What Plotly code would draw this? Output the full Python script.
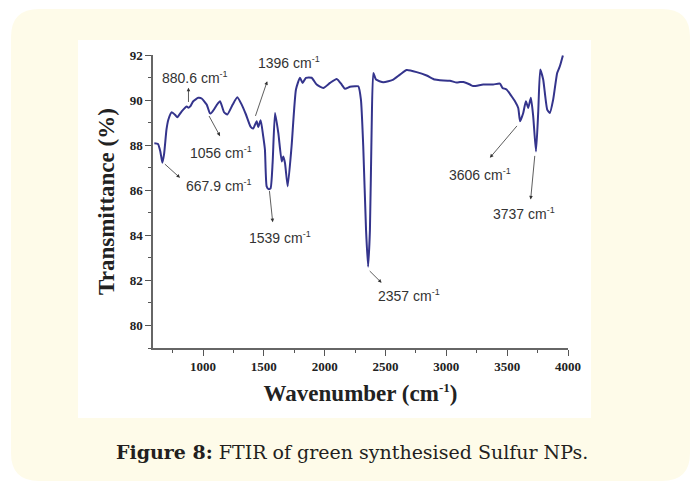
import plotly.graph_objects as go

# ---------------- data ----------------
wavenumber = [600, 630, 650, 666, 680, 700, 715, 743, 770, 789, 825, 866, 880, 895, 920, 961, 989,
              1030, 1056, 1063, 1090, 1115, 1140, 1173, 1200, 1244, 1282, 1318, 1353, 1392, 1413,
              1441, 1454, 1474, 1495, 1509, 1523, 1539, 1555, 1572, 1592, 1619, 1647, 1660, 1674,
              1696, 1728, 1764, 1797, 1819, 1846, 1893, 1934, 1989, 2044, 2099, 2140, 2167, 2208,
              2249, 2276, 2298, 2317, 2340, 2357, 2372, 2386, 2400, 2422, 2482, 2564, 2619, 2674,
              2756, 2838, 2906, 2947, 3029, 3085, 3112, 3139, 3194, 3221, 3303, 3385, 3440, 3462,
              3495, 3536, 3564, 3591, 3606, 3632, 3654, 3673, 3695, 3714, 3737, 3755, 3772, 3796,
              3829, 3851, 3878, 3911, 3933, 3958]
transmittance = [88.08, 88.05, 87.7, 87.22, 87.6, 88.7, 89.13, 89.46, 89.35, 89.24, 89.5, 89.72,
                 89.66, 89.72, 89.95, 90.1, 90.07, 89.8, 89.42, 89.4, 89.58, 89.8, 89.95, 89.46,
                 89.36, 89.8, 90.13, 89.8, 89.36, 88.81, 88.74, 89.06, 88.8, 89.1, 88.39, 87.8,
                 86.17, 86.05, 86.08, 87.2, 89.43, 88.54, 87.28, 87.5, 87.2, 86.17, 87.95, 90.47,
                 90.99, 90.76, 90.99, 90.99, 90.69, 90.54, 90.76, 90.94, 90.69, 90.5, 90.59, 90.61,
                 90.61, 90.02, 87.95, 84.24, 82.61, 84.24, 88.69, 91.2, 90.91, 90.79, 90.91, 91.13,
                 91.33, 91.24, 91.09, 90.91, 90.88, 90.86, 90.78, 90.8, 90.8, 90.69, 90.62, 90.69,
                 90.69, 90.73, 90.54, 90.47, 90.17, 89.95, 89.65, 89.06, 89.43, 89.95, 89.65, 90.1,
                 89.28, 87.72, 89.43, 91.36, 90.91, 89.58, 89.43, 90.02, 91.2, 91.5, 91.98]

# peak labels: curve point (arrow tail), arrow head, label centre
peak_labels = ["667.9", "880.6", "1056", "1396", "1539", "2357", "3606", "3737"]
peak_curve_x = [674, 880.6, 1043, 1427, 1545, 2358, 3591, 3728]
peak_curve_y = [87.22, 89.85, 89.36, 89.23, 86.03, 82.48, 88.92, 87.59]
peak_head_x = [811, 880.6, 1140, 1528, 1573, 2468, 3358, 3693]
peak_head_y = [86.55, 90.55, 88.4, 90.84, 84.58, 81.89, 87.44, 85.59]
peak_text_x = [1131, 934, 1148, 1706, 1632, 2692, 3275, 3637]
peak_text_y = [86.22, 91.0, 87.67, 91.67, 83.9, 81.33, 86.7, 84.97]

x_ticks = [1000, 1500, 2000, 2500, 3000, 3500, 4000]
y_ticks = [80, 82, 84, 86, 88, 90, 92]

caption_bold = "Figure 8:"
caption_rest = " FTIR of green synthesised Sulfur NPs."

W, H = 696, 487
ML, MR, MT, MB = 153, 128, 55, 139
PW, PH = W - ML - MR, H - MT - MB


def px_x(p):
    return (p - ML) / PW


def px_y(p):
    return 1 - (p - MT) / PH


fig = go.Figure()
fig.add_trace(go.Scatter(
    x=wavenumber, y=transmittance, mode="lines",
    line=dict(color="#34348c", width=2, shape="spline", smoothing=0.5),
    hoverinfo="skip", showlegend=False))

# background panels
x0, x1, y0, y1, r = 11, 690, 9, 481, 28
path = (f"M {px_x(x0+r)},{px_y(y0)} L {px_x(x1-r)},{px_y(y0)} "
        f"Q {px_x(x1)},{px_y(y0)} {px_x(x1)},{px_y(y0+r)} "
        f"L {px_x(x1)},{px_y(y1-r)} Q {px_x(x1)},{px_y(y1)} {px_x(x1-r)},{px_y(y1)} "
        f"L {px_x(x0+r)},{px_y(y1)} Q {px_x(x0)},{px_y(y1)} {px_x(x0)},{px_y(y1-r)} "
        f"L {px_x(x0)},{px_y(y0+r)} Q {px_x(x0)},{px_y(y0)} {px_x(x0+r)},{px_y(y0)} Z")
shapes = [
    dict(type="path", path=path, xref="paper", yref="paper",
         fillcolor="#fefbe9", line=dict(width=0), layer="below"),
    dict(type="rect", xref="paper", yref="paper",
         x0=px_x(78), x1=px_x(591), y0=px_y(418), y1=px_y(40),
         fillcolor="white", line=dict(width=0), layer="below"),
]

annotations = []
for i, lab in enumerate(peak_labels):
    annotations.append(dict(
        x=peak_head_x[i], y=peak_head_y[i], ax=peak_curve_x[i], ay=peak_curve_y[i],
        xref="x", yref="y", axref="x", ayref="y", text="", showarrow=True,
        arrowhead=2, arrowsize=0.9, arrowwidth=0.8, arrowcolor="#333333"))
    annotations.append(dict(
        x=peak_text_x[i], y=peak_text_y[i], xref="x", yref="y",
        text=f"{lab} cm<sup><span style='font-size:9px'>-1</span></sup>", showarrow=False,
        font=dict(family="Liberation Sans, Arial", size=14, color="#333333"),
        xanchor="center", yanchor="middle"))

annotations.append(dict(
    x=px_x(352), y=px_y(452), xref="paper", yref="paper",
    text=f"<b>{caption_bold}</b>{caption_rest}", showarrow=False,
    font=dict(family="DejaVu Serif", size=19, color="#231f20"),
    xanchor="center", yanchor="middle"))

fig.update_layout(
    width=W, height=H,
    margin=dict(l=ML, r=MR, t=MT, b=MB),
    paper_bgcolor="white", plot_bgcolor="white",
    shapes=shapes, annotations=annotations,
    xaxis=dict(
        range=[589, 4000], tickvals=x_ticks, ticks="outside", ticklen=6,
        tickwidth=1.2, tickcolor="#555555", showline=True, linecolor="#666666",
        linewidth=1.5, showgrid=False, zeroline=False,
        minor=dict(dtick=250, tick0=0, ticks="outside", ticklen=3, tickcolor="#555555"),
        tickfont=dict(family="Liberation Serif", size=13, color="#222222", weight="bold"),
        title=dict(text="<b>Wavenumber (cm<sup><span style='font-size:13px'>-1</span></sup>)</b>",
                   standoff=12,
                   font=dict(family="Liberation Serif", size=23, color="#222222")),
    ),
    yaxis=dict(
        range=[79.0, 92], tickvals=y_ticks, ticks="outside", ticklen=6,
        tickwidth=1.2, tickcolor="#555555", showline=True, linecolor="#666666",
        linewidth=1.5, showgrid=False, zeroline=False,
        minor=dict(dtick=1, tick0=0, ticks="outside", ticklen=3, tickcolor="#555555"),
        tickfont=dict(family="Liberation Serif", size=13, color="#222222", weight="bold"),
        title=dict(text="<b>Transmittance (%)</b>", standoff=9,
                   font=dict(family="Liberation Serif", size=23, color="#222222")),
    ),
)

fig.write_html("out.html")
